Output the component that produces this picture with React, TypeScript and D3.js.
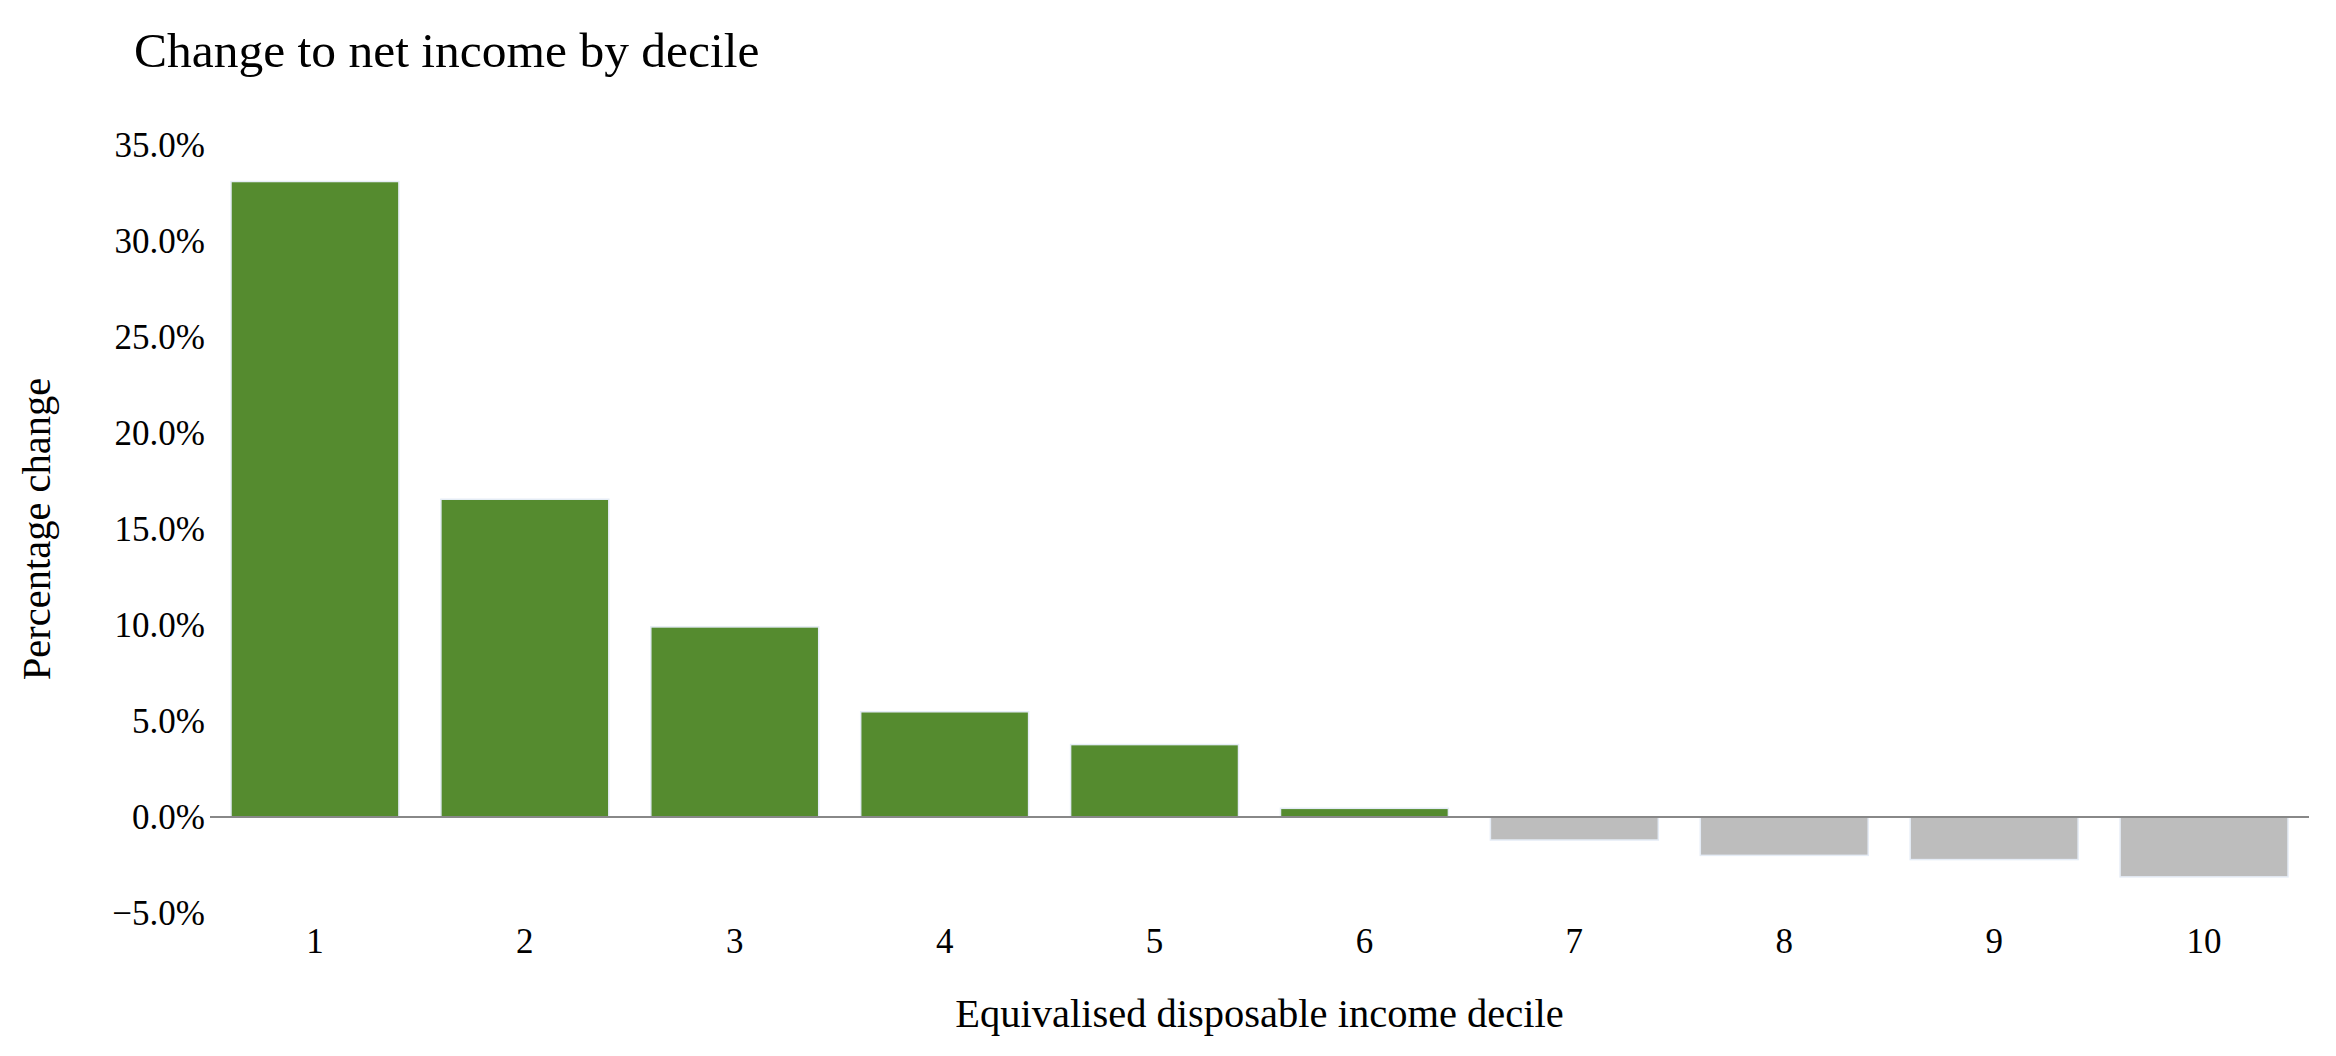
import React, { useEffect, useRef } from 'react';
import * as d3 from 'd3';

// deciles and percentage change in net income
const deciles: string[] = ['1', '2', '3', '4', '5', '6', '7', '8', '9', '10'];
const changes: number[] = [33.1, 16.55, 9.9, 5.48, 3.77, 0.45, -1.2, -2.0, -2.22, -3.12];
const yTicks: number[] = [-5, 0, 5, 10, 15, 20, 25, 30, 35];

const chartTitle = 'Change to net income by decile';
const xTitle = 'Equivalised disposable income decile';
const yTitle = 'Percentage change';

const App: React.FC = () => {
    const ref = useRef<SVGSVGElement>(null);
    const width = 2336;
    const height = 1056;
    const margin = { top: 141.2, right: 27, bottom: 139.2, left: 210 };
    const font = '"Liberation Serif", "Times New Roman", serif';

    useEffect(() => {
        drawChart();
        //eslint-disable-next-line
    }, []);

    const drawChart = () => {
        const svg = d3.select(ref.current);
        svg.selectAll('*').remove();

        const innerW = width - margin.left - margin.right;
        const innerH = height - margin.top - margin.bottom;

        const x = d3.scaleBand<string>().domain(deciles).range([0, innerW]).paddingInner(0.2).paddingOuter(0.1);
        const y = d3.scaleLinear().domain([-5.2, 35.2]).range([innerH, 0]);
        const fmt = d3.format('.1f');

        const g = svg.append('g').attr('transform', `translate(${margin.left},${margin.top})`);

        // bars
        g.selectAll('rect.bar')
            .data(changes)
            .enter()
            .append('rect')
            .attr('class', 'bar')
            .attr('x', (_, i) => x(deciles[i]) as number)
            .attr('width', x.bandwidth())
            .attr('y', d => y(Math.max(0, d)))
            .attr('height', d => Math.abs(y(d) - y(0)))
            .attr('fill', d => (d >= 0 ? '#558B2F' : '#BDBDBD'))
            .attr('stroke', '#E5ECF6')
            .attr('stroke-width', 1.5);

        // zero line
        g.append('line')
            .attr('x1', 0)
            .attr('x2', innerW)
            .attr('y1', y(0))
            .attr('y2', y(0))
            .attr('stroke', '#888888')
            .attr('stroke-width', 2);

        // y tick labels
        g.selectAll('text.ytick')
            .data(yTicks)
            .enter()
            .append('text')
            .attr('class', 'ytick')
            .attr('x', -5)
            .attr('y', d => y(d))
            .attr('dy', '0.35em')
            .attr('text-anchor', 'end')
            .attr('font-family', font)
            .attr('font-size', 35)
            .attr('fill', '#000')
            .text(d => `${fmt(d)}%`);

        // x tick labels
        g.selectAll('text.xtick')
            .data(deciles)
            .enter()
            .append('text')
            .attr('class', 'xtick')
            .attr('x', d => (x(d) as number) + x.bandwidth() / 2)
            .attr('y', innerH + 36)
            .attr('text-anchor', 'middle')
            .attr('font-family', font)
            .attr('font-size', 35)
            .attr('fill', '#000')
            .text(d => d);

        // axis titles
        svg.append('text')
            .attr('x', margin.left + innerW / 2)
            .attr('y', 1027)
            .attr('text-anchor', 'middle')
            .attr('font-family', font)
            .attr('font-size', 40.5)
            .attr('fill', '#000')
            .text(xTitle);

        svg.append('text')
            .attr('transform', `translate(50,${margin.top + innerH / 2}) rotate(-90)`)
            .attr('text-anchor', 'middle')
            .attr('font-family', font)
            .attr('font-size', 40.5)
            .attr('fill', '#000')
            .text(yTitle);

        // chart title
        svg.append('text')
            .attr('x', 134)
            .attr('y', 67)
            .attr('font-family', font)
            .attr('font-size', 49.5)
            .attr('fill', '#000')
            .text(chartTitle);
    };

    return (
        <svg
            ref={ref}
            width={width}
            height={height}
            style={{ position: 'absolute', left: 0, top: 0, display: 'block', background: '#fff' }}
        ></svg>
    );
};

export default App;
